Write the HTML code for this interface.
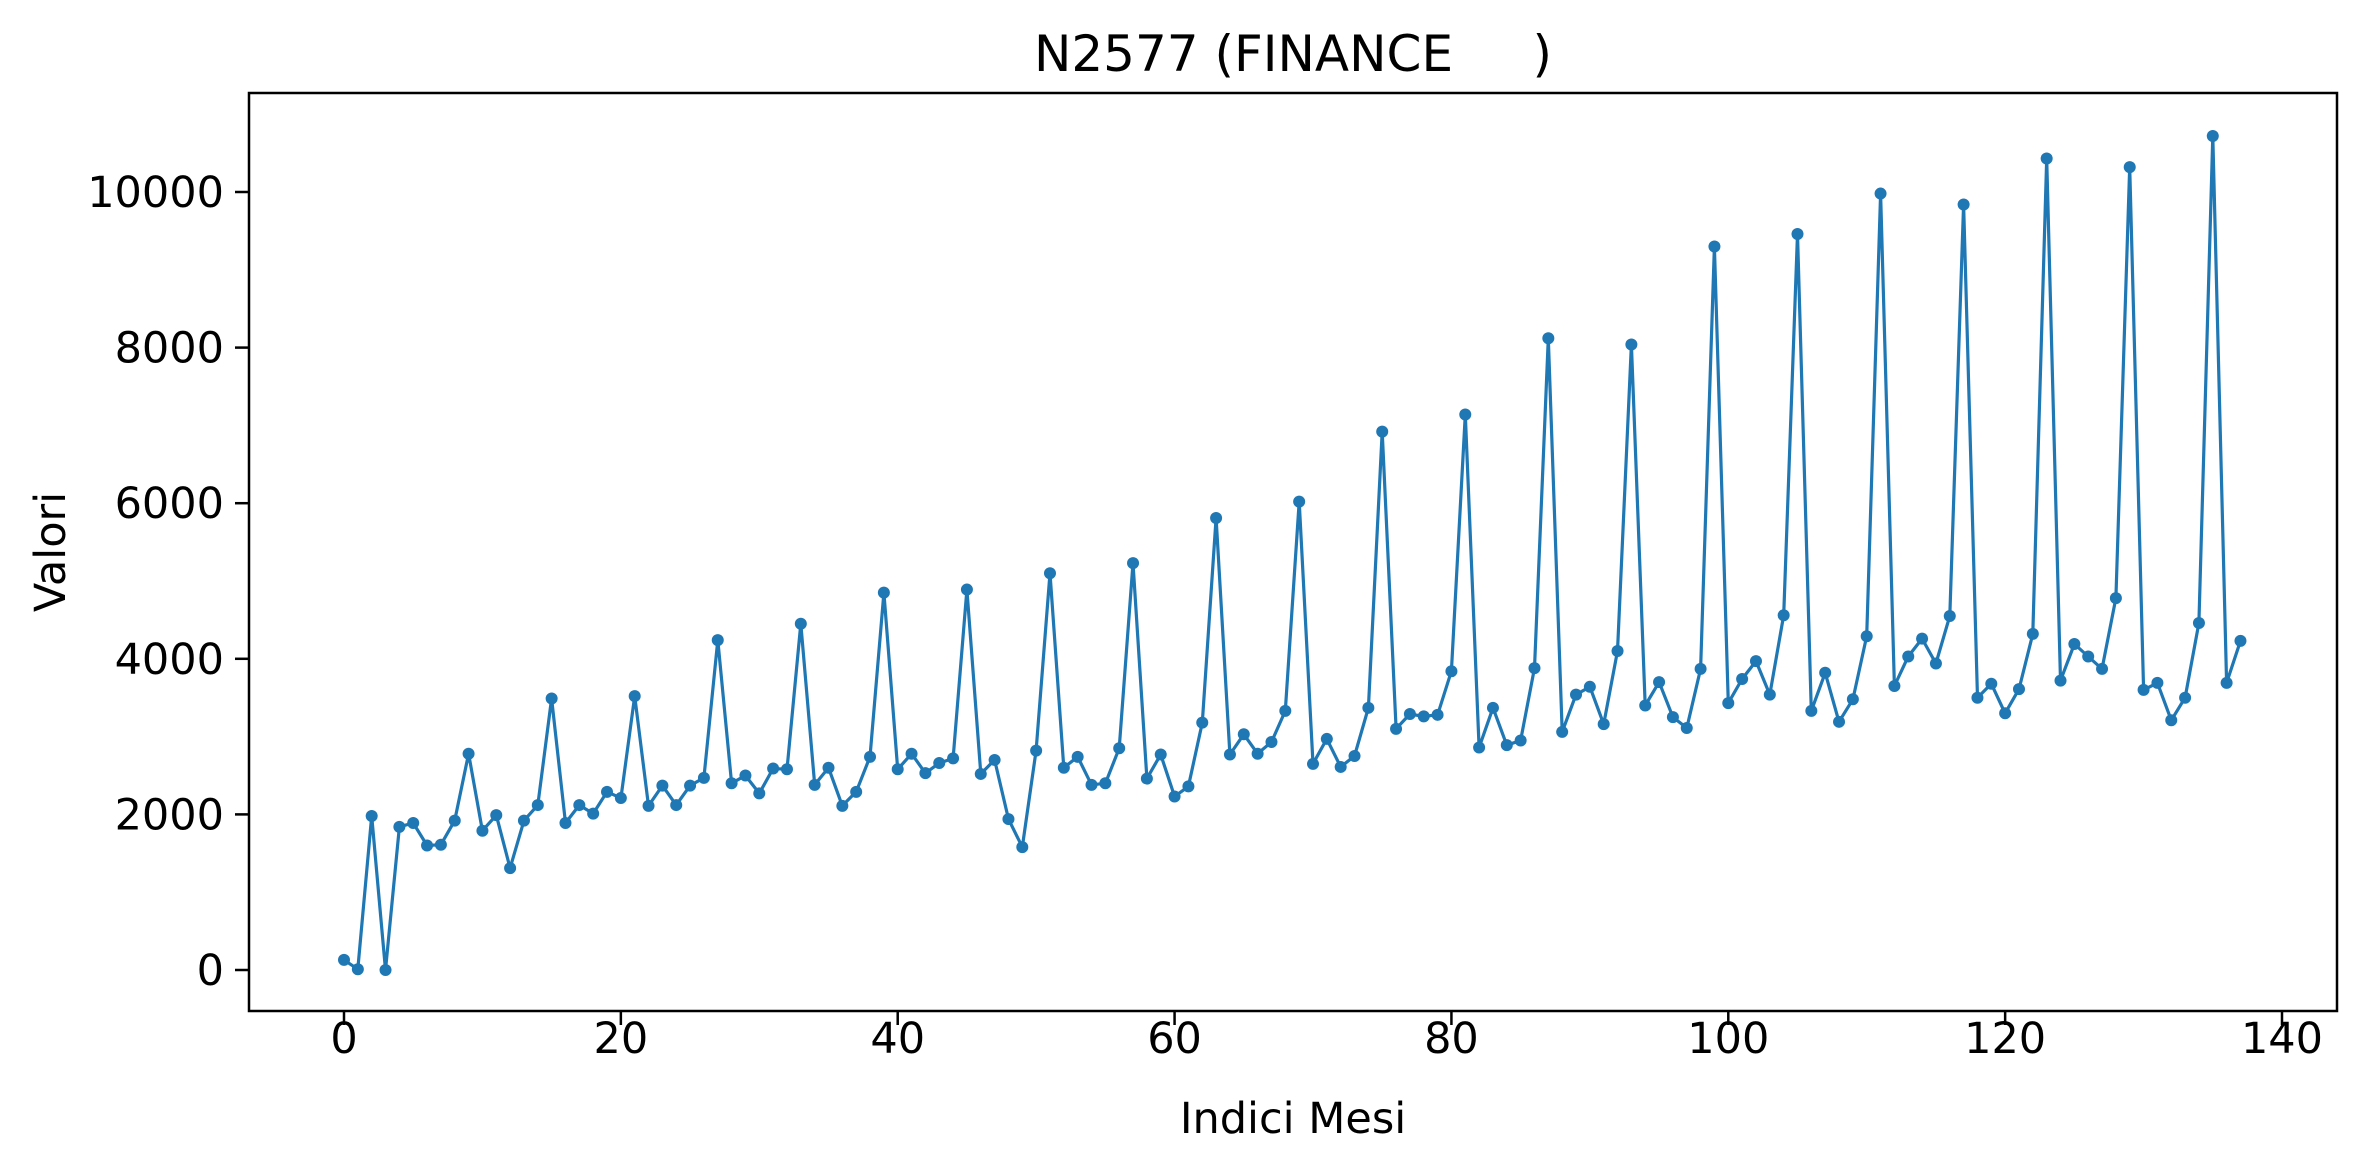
<!DOCTYPE html>
<html><head><meta charset="utf-8"><style>
html,body{margin:0;padding:0;background:#fff;}
svg text{font-family:"DejaVu Sans","Liberation Sans",sans-serif;fill:#000;}
</style></head><body>
<svg id="chart" width="2367" height="1168" viewBox="0 0 2367 1168" xmlns="http://www.w3.org/2000/svg">
<rect width="2367" height="1168" fill="#fff"/>
<text x="1293" y="71" font-size="50" text-anchor="middle" xml:space="preserve">N2577 (FINANCE     )</text>
<g id="axes"></g>
<g id="series"></g>
<rect x="249" y="93" width="2088" height="918" fill="none" stroke="#000" stroke-width="2.5"/>
<text x="1293" y="1133" font-size="43" text-anchor="middle">Indici Mesi</text>
<text transform="translate(65,552) rotate(-90)" font-size="43" text-anchor="middle">Valori</text>
</svg>
<script>
const values = [130,10,1980,0,1840,1890,1600,1610,1920,2780,1790,1990,1310,1920,2120,3490,1890,2120,2010,2290,2210,3520,2110,2370,2120,2370,2470,4240,2400,2500,2270,2590,2580,4450,2380,2600,2110,2290,2740,4850,2580,2780,2530,2660,2720,4890,2520,2700,1940,1580,2820,5100,2600,2740,2380,2400,2850,5230,2460,2770,2230,2360,3180,5810,2770,3030,2780,2930,3330,6020,2650,2970,2610,2750,3370,6920,3100,3290,3260,3280,3840,7140,2860,3370,2890,2950,3880,8120,3060,3540,3640,3160,4100,8040,3400,3700,3250,3110,3870,9300,3430,3740,3970,3540,4560,9460,3330,3820,3190,3480,4290,9980,3650,4030,4260,3940,4550,9840,3500,3680,3300,3610,4320,10430,3720,4190,4030,3870,4780,10320,3600,3690,3210,3500,4460,10720,3690,4230];
const xTicks = [0,20,40,60,80,100,120,140];
const yTicks = [0,2000,4000,6000,8000,10000];
const NS = "http://www.w3.org/2000/svg";
function xs(i){ return 344 + i*(2282-344)/140; }
function ys(v){ return 970 - v*(970-192)/10000; }
const axes = document.getElementById('axes');
const series = document.getElementById('series');
function mk(tag, attrs, parent){ const e=document.createElementNS(NS,tag); for(const k in attrs) e.setAttribute(k,attrs[k]); parent.appendChild(e); return e; }
xTicks.forEach(t=>{
  const l = mk('line',{x1:xs(t),x2:xs(t),y1:1011,y2:1025,stroke:'#000','stroke-width':2.5},axes);
  
  
  const tx = mk('text',{x:xs(t),y:1053,'font-size':43,'text-anchor':'middle'},axes);
  tx.textContent = t;
  
  
});
yTicks.forEach(t=>{
  const l = mk('line',{x1:235,x2:249,y1:ys(t),y2:ys(t),stroke:'#000','stroke-width':2.5},axes);
  
  
  const tx = mk('text',{x:224,y:ys(t)+15,'font-size':43,'text-anchor':'end'},axes);
  tx.textContent = t;
  
  
});
const pts = values.map((v,i)=>xs(i).toFixed(1)+','+ys(v).toFixed(1)).join(' ');
const pl = mk('polyline',{points:pts,fill:'none',stroke:'#1f77b4','stroke-width':3.2,'stroke-linejoin':'round'},series);


values.forEach((v,i)=>{
  const c = mk('circle',{cx:xs(i),cy:ys(v),r:6,fill:'#1f77b4'},series);
  
  
});
</script>
</body></html>
